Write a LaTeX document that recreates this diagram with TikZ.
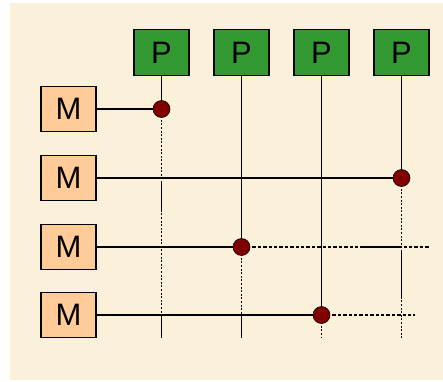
\documentclass[tikz,border=0pt]{standalone}
\usepackage{fontspec}
\setmainfont{Liberation Sans}
\usetikzlibrary{calc}
\definecolor{paper}{HTML}{FBF0D9}
\definecolor{pfill}{HTML}{339933}
\definecolor{mfill}{HTML}{FFCC99}
\definecolor{jointc}{HTML}{800000}
\tikzset{
  unit/.style={draw=black, line width=1.3pt, minimum width=55pt, minimum height=46pt,
               inner sep=0pt, font=\fontsize{31}{31}\selectfont},
  proc/.style={unit, fill=pfill},
  mem/.style={unit, fill=mfill, minimum height=45pt},
  wire/.style={line width=1.4pt},
  idlev/.style={line width=1.6pt, dash pattern=on 2pt off 1.6pt},
  idleh/.style={line width=1.4pt, dash pattern=on 3.4pt off 2pt},
  joint/.style={circle, fill=jointc, draw=black, line width=0.6pt, minimum size=17pt, inner sep=0pt},
}
\def\cA{161.5}
\def\cB{241.5}
\def\cC{321.5}
\def\cD{401.5}
\def\rA{109}
\def\rB{178}
\def\rC{247}
\def\rD{315}
\def\yP{52.5}
\def\xM{68.5}
\def\yE{338}

\begin{document}
\begin{tikzpicture}[x=1pt,y=-1pt]
  \useasboundingbox (0,0) rectangle (443,381);
  \fill[paper] (10,3) rectangle (443,380);
  % processors and memories
  \node[proc] (p1) at (\cA,\yP) {P};
  \node[proc] (p2) at (\cB,\yP) {P};
  \node[proc] (p3) at (\cC,\yP) {P};
  \node[proc] (p4) at (\cD,\yP) {P};
  \node[mem] (m1) at (\xM,\rA) {M};
  \node[mem] (m2) at (\xM,\rB) {M};
  \node[mem] (m3) at (\xM,\rC) {M};
  \node[mem] (m4) at (\xM,\rD) {M};
  % crosspoints and loose ends
  \coordinate (d1) at (\cA,\rA);
  \coordinate (d2) at (\cD,\rB);
  \coordinate (d3) at (\cB,\rC);
  \coordinate (d4) at (\cC,\rD);
  \coordinate (c12) at (\cA,\rB);
  \coordinate (c14) at (\cA,\rD);
  \coordinate (c24) at (\cB,\rD);
  \coordinate (c43) at (\cD,\rC);
  \coordinate (e1) at (\cA,\yE);
  \coordinate (e2) at (\cB,\yE);
  \coordinate (e3) at (\cC,\yE);
  \coordinate (e4) at (\cD,\yE);
  \coordinate (h3) at (430,\rC);
  \coordinate (h4) at (415,\rD);
  % unused parts of the switch
  \draw[idlev] (d1) -- (e1);
  \draw[idlev] (d3) -- (e2);
  \draw[idlev] (d4) -- (e3);
  \draw[idlev] (d2) -- (e4);
  \draw[idleh] (d3) -- (h3);
  \draw[idleh] (d4) -- (h4);
  \draw[wire] ($(c12)+(0,4)$) -- ($(c12)+(0,34)$);
  \draw[wire] ($(c43)+(0,3)$) -- ($(c43)+(0,51)$);
  \draw[wire] ($(c43)+(-38.5,0)$) -- (c43);
  \draw[wire] (c14) -- (e1);
  \draw[wire] (c24) -- (e2);
  % closed connections
  \draw[wire] (p1.south) -- (d1);
  \draw[wire] (p2.south) -- (d3);
  \draw[wire] (p3.south) -- (d4);
  \draw[wire] (p4.south) -- (d2);
  \draw[wire] (m1.east) -- (d1);
  \draw[wire] (m2.east) -- (d2);
  \draw[wire] (m3.east) -- (d3);
  \draw[wire] (m4.east) -- (d4);
  \node[joint] at (d1) {};
  \node[joint] at (d2) {};
  \node[joint] at (d3) {};
  \node[joint] at (d4) {};
\end{tikzpicture}
\end{document}
